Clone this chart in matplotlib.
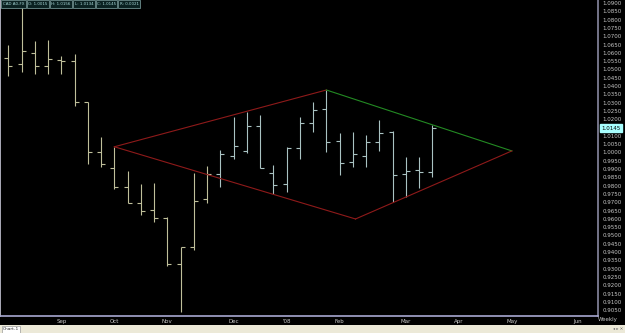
import numpy as np
import matplotlib
matplotlib.use("Agg")
import matplotlib.pyplot as plt
from matplotlib.patches import Rectangle
import matplotlib.transforms as mtransforms

# weekly OHLC bars (CAD)
opens = [1.0569, 1.0532, 1.0599, 1.0520, 1.0557, 1.0551, 1.0304, 1.0002, 0.9906, 0.9791,
         0.9695, 0.9653, 0.9605, 0.9326, 0.9432, 0.9719, 0.9870, 0.9978, 1.0008, 1.0159,
         0.9874, 0.9810, 1.0025, 1.0179, 1.0261, 1.0069, 0.9944, 0.9978, 1.0063, 1.0125,
         0.9868, 0.9894, 0.9884]
highs = [1.0647, 1.0880, 1.0671, 1.0677, 1.0581, 1.0593, 1.0305, 1.0093, 1.0034, 0.9888,
         0.9810, 0.9816, 0.9613, 0.9430, 0.9878, 0.9918, 1.0015, 1.0213, 1.0245, 1.0225,
         0.9924, 1.0032, 1.0215, 1.0305, 1.0376, 1.0115, 1.0125, 1.0105, 1.0195, 1.0131,
         0.9970, 0.9974, 1.0165]
lows = [1.0460, 1.0484, 1.0472, 1.0472, 1.0472, 1.0279, 0.9930, 0.9912, 0.9779, 0.9695,
        0.9623, 0.9582, 0.9316, 0.9040, 0.9412, 0.9695, 0.9791, 0.9960, 0.9999, 0.9908,
        0.9748, 0.9761, 0.9958, 1.0121, 1.0004, 0.9864, 0.9914, 0.9910, 1.0010, 0.9701,
        0.9733, 0.9787, 0.9854]
closes = [1.0520, 1.0611, 1.0520, 1.0563, 1.0551, 1.0304, 1.0002, 0.9930, 0.9791, 0.9695,
          0.9649, 0.9605, 0.9328, 0.9428, 0.9707, 0.9870, 0.9990, 1.0039, 1.0159, 0.9908,
          0.9804, 1.0025, 1.0179, 1.0255, 1.0064, 0.9934, 0.9990, 1.0063, 1.0119, 0.9864,
          0.9890, 0.9884, 1.0145]

month_pos = [4, 8, 12, 17, 21, 25, 30, 34, 38, 43]
month_labels = ["Sep", "Oct", "Nov", "Dec", "'08", "Feb", "Mar", "Apr", "May", "Jun"]

# diamond (trend lines): left, top, right, bottom vertices
left_pt = (8, 1.0034)
top_pt = (24, 1.0376)
right_pt = (38, 1.0009)
bottom_pt = (26.2, 0.9599)

info = ["CAD A0-FX", "O: 1.0015", "H: 1.0156", "L: 1.0134", "C: 1.0145", "R: 0.0021"]
last_price = 1.0145

y_ticks = np.round(np.arange(0.9050, 1.09001, 0.005), 4)

W, H = 625, 333
fig = plt.figure(figsize=(W / 100, H / 100), dpi=100, facecolor="black")
ax = fig.add_axes([0.0, 17 / H, 598 / W, 316 / H])
ax.set_facecolor("black")

n = len(opens)
x = np.arange(n)
cols = ["#bfbf9a" if i < 16 else "#a9c2c2" for i in range(n)]
tk = 0.3
ax.vlines(x, lows, highs, colors=cols, lw=0.8)
ax.hlines(opens, x - tk, x, colors=cols, lw=0.8)
ax.hlines(closes, x, x + tk, colors=cols, lw=0.8)

red = "#8e1a1a"
green = "#238a23"
ax.plot([left_pt[0], top_pt[0]], [left_pt[1], top_pt[1]], color=red, lw=0.8)
ax.plot([top_pt[0], right_pt[0]], [top_pt[1], right_pt[1]], color=green, lw=0.8)
ax.plot([left_pt[0], bottom_pt[0]], [left_pt[1], bottom_pt[1]], color=red, lw=0.8)
ax.plot([bottom_pt[0], right_pt[0]], [bottom_pt[1], right_pt[1]], color=red, lw=0.8)

ax.set_xlim(-0.63, 44.5)
ax.set_ylim(0.90145, 1.09181)

ax.set_xticks(month_pos)
ax.set_xticklabels(month_labels)
ax.tick_params(axis="x", length=0, pad=2, labelsize=4, colors="#c8c8c8")

shown = [v for v in y_ticks if abs(v - 1.015) > 1e-6]
ax.yaxis.tick_right()
ax.set_yticks(shown)
ax.set_yticklabels(["%.4f" % v for v in shown])
ax.tick_params(axis="y", length=0, pad=3, labelsize=4, colors="#c8c8c8")

ax.spines["top"].set_visible(False)
ax.spines["left"].set_color("#c8c8d8")
ax.spines["bottom"].set_color("#a8a8d0")
ax.spines["right"].set_color("#8888a0")
for s in ["left", "bottom", "right"]:
    ax.spines[s].set_linewidth(1.2)

# highlighted last price on the right axis
trans = mtransforms.blended_transform_factory(ax.transAxes, ax.transData)
ax.text(1.005, last_price, "%.4f" % last_price, transform=trans, fontsize=4,
        va="center", ha="left", color="black", clip_on=False,
        bbox=dict(boxstyle="square,pad=0.25", fc="#a8ffff", ec="#a8ffff"))

# info boxes on top left
cell_x = [1, 27, 50, 73, 96, 118]
cell_w = [25, 22, 22, 22, 21, 22]
for cx, cw, t in zip(cell_x, cell_w, info):
    fig.patches.append(Rectangle((cx / W, 1 - 8 / H), cw / W, 8 / H, transform=fig.transFigure,
                                 fc="#0b2222", ec="#6f8f8f", lw=0.6))
    fig.text((cx + cw / 2) / W, 1 - 4 / H, t, fontsize=2.9, color="#a8d8d8",
             ha="center", va="center")

fig.text(608 / W, 1 - 320 / H, "Weekly", fontsize=4, color="#c8c8c8", ha="center", va="center")

# status bar at the bottom
fig.patches.append(Rectangle((0, 0), 1, 8 / H, transform=fig.transFigure,
                             fc="#ece9d8", ec="none"))
fig.patches.append(Rectangle((2 / W, 0.5 / H), 18 / W, 7 / H, transform=fig.transFigure,
                             fc="#ffffff", ec="#9a9a9a", lw=0.5))
fig.text(11 / W, 4 / H, "Chart-1", fontsize=3.2, color="#333333", ha="center", va="center")
fig.text(618 / W, 4 / H, "◂ ▸ ✕", fontsize=3, color="#666666", ha="center", va="center")

fig.savefig("out.png", dpi=100, facecolor="black")
